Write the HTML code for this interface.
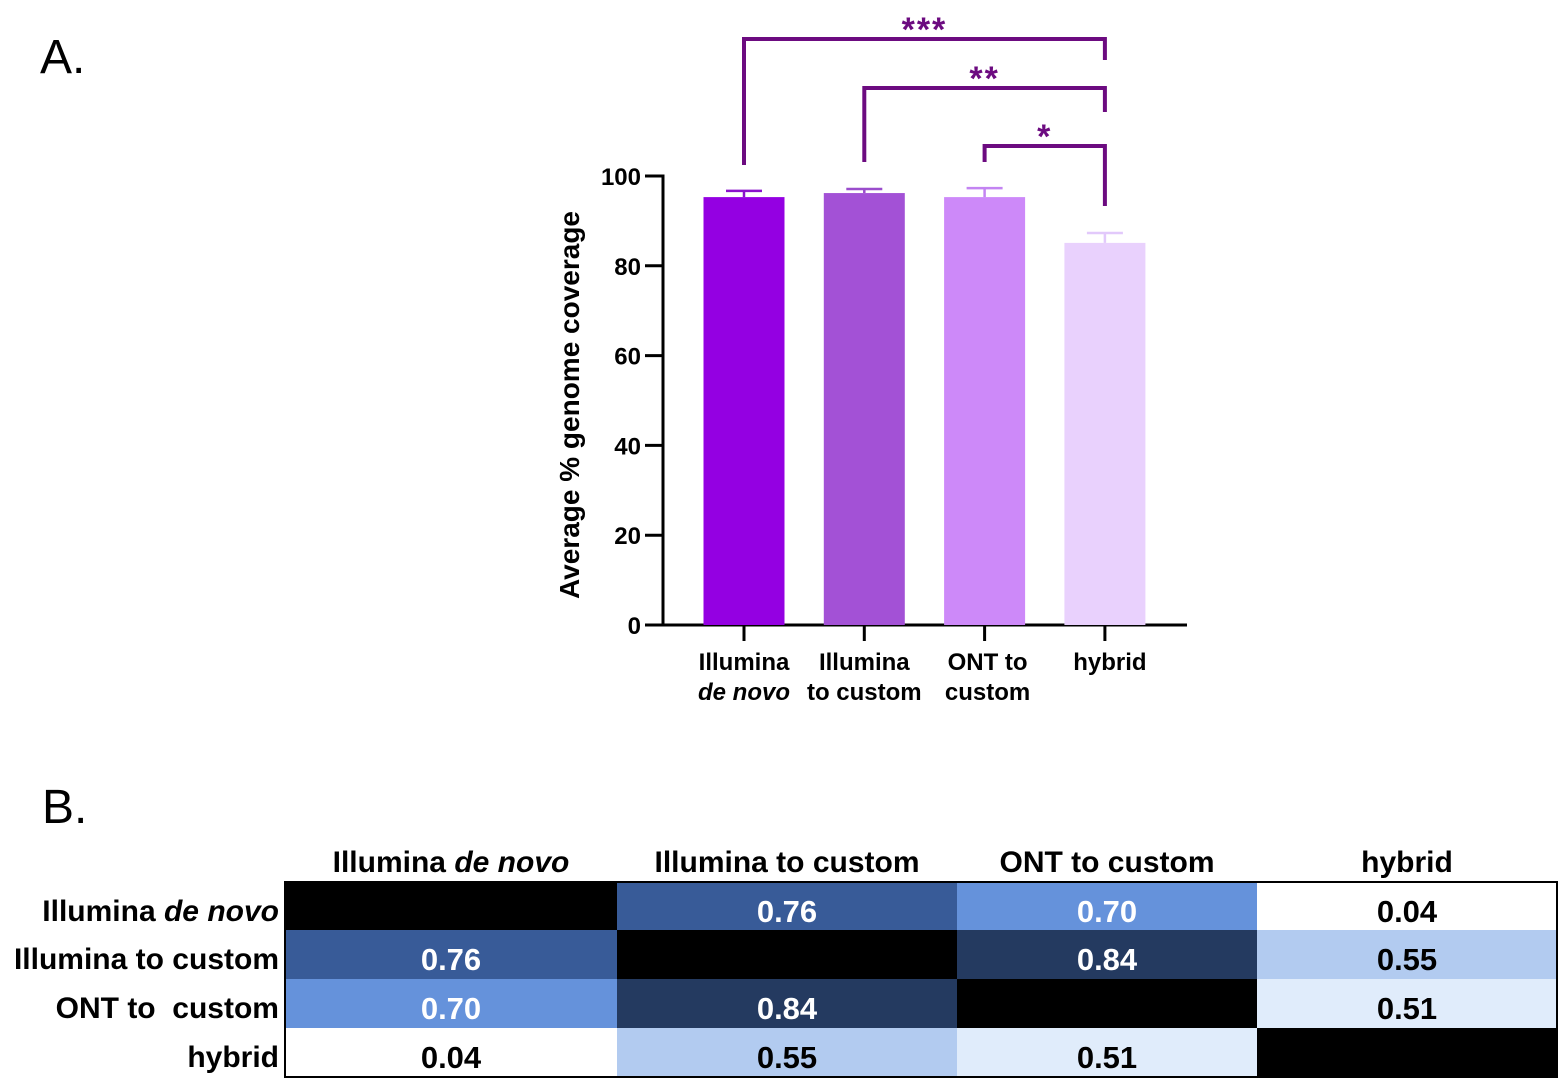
<!DOCTYPE html>
<html><head><meta charset="utf-8"><style>
body{margin:0;background:#fff;}
svg{display:block;font-family:"Liberation Sans",Arial,sans-serif;font-weight:bold;}
text{white-space:pre;}
</style></head><body>
<svg id="fig" width="1561" height="1081" viewBox="0 0 1561 1081">
<text x="40" y="73" font-size="48" font-weight="normal">A.</text>
<text x="42" y="823" font-size="48" font-weight="normal">B.</text>
<g id="chart"></g>
<g id="table"></g>
</svg>
<script>
const categories=["Illumina|de novo","Illumina|to custom","ONT to|custom","hybrid"];
const values=[95.3,96.2,95.3,85.1];
const errors=[1.4,0.9,2.0,2.2];
const colors=["#9400e2","#a351d6","#cd89f9","#e9d1fd"];
const errColors=["#8a12cc","#9a4dcc","#c384f2","#e2c9fb"];
const yTicks=[0,20,40,60,80,100];
const sigPairs=[[0,3,"***"],[1,3,"**"],[2,3,"*"]];
const rowLabels=["Illumina de novo","Illumina to custom","ONT to  custom","hybrid"];
const colLabels=["Illumina de novo","Illumina to custom","ONT to custom","hybrid"];
const matrix=[[null,0.76,0.70,0.04],[0.76,null,0.84,0.55],[0.70,0.84,null,0.51],[0.04,0.55,0.51,null]];

const NS="http://www.w3.org/2000/svg";
function mk(p,t,a){const e=document.createElementNS(NS,t);for(const k in a)e.setAttribute(k,a[k]);p.appendChild(e);return e;}
const chart=document.getElementById('chart');
const y0=625,y1=176,x0=663,xEnd=1187;
const ys=v=>y0-(v/100)*(y0-y1);
const xs=i=>744+i*120.3;
const bw=81;
let ax=mk(chart,'line',{x1:x0,y1:y1-1.5,x2:x0,y2:y0+1.5,stroke:'#000','stroke-width':3});


yTicks.forEach(t=>{
  let l=mk(chart,'line',{x1:x0-18,y1:ys(t),x2:x0,y2:ys(t),stroke:'#000','stroke-width':3});
  
  
  let tx=mk(chart,'text',{x:x0-22,y:ys(t)+9,'font-size':24,'text-anchor':'end'});tx.textContent=t;
  
  
});
let yt=mk(chart,'text',{x:0,y:0,'font-size':28,'text-anchor':'middle',transform:'translate(579,405) rotate(-90)'});
yt.textContent='Average % genome coverage';


let xa=mk(chart,'line',{x1:x0,y1:y0,x2:xEnd,y2:y0,stroke:'#000','stroke-width':3});


categories.forEach((c,i)=>{
  const cx=xs(i);
  let b=mk(chart,'rect',{x:cx-bw/2,y:ys(values[i]),width:bw,height:y0-ys(values[i]),fill:colors[i]});
  
  
  const et=ys(values[i]+errors[i]);
  let e=mk(chart,'path',{d:`M${cx},${ys(values[i])}V${et}M${cx-18},${et}H${cx+18}`,stroke:errColors[i],'stroke-width':2.5,fill:'none'});
  
  
  let tk=mk(chart,'line',{x1:cx,y1:y0,x2:cx,y2:y0+16,stroke:'#000','stroke-width':3});
  
  
  const parts=c.split('|');
  parts.forEach((p,j)=>{
    let t=mk(chart,'text',{x:cx+(i==3?5:(i==2?3:0)),y:670+j*30,'font-size':24,'text-anchor':'middle'});
    if(p==='de novo')t.setAttribute('font-style','italic');
    t.textContent=p;
    
    
  });
});
const bracketY=[39,88,146],leftBot=[165,162,162],rightBot=[60,112,206];
sigPairs.forEach((s,k)=>{
  const a=xs(s[0]),b=xs(s[1]),y=bracketY[k];
  let p=mk(chart,'path',{d:`M${a},${leftBot[k]}V${y}H${b}V${rightBot[k]}`,stroke:'#6c0b80','stroke-width':4,fill:'none'});
  
  
  let t=mk(chart,'text',{x:(a+b)/2,y:y+2,'font-size':34,'text-anchor':'middle',fill:'#6c0b80','letter-spacing':2});
  t.textContent=s[2];
  
  
});
const tb=document.getElementById('table');
const colX=[285,617,957,1257,1557],rowY=[882,930,979,1028,1077];
function cellColor(v){if(v===null)return'#000';if(v>=0.8)return'#243a60';if(v>=0.73)return'#385b98';if(v>=0.6)return'#6592db';if(v>=0.53)return'#b2cbf0';if(v>=0.3)return'#e0ecfb';return'#fff';}
function rich(t,el){
  const m=t.split('de novo');
  el.appendChild(document.createTextNode(m[0]));
  if(m.length>1){const s=mk(el,'tspan',{'font-style':'italic'});s.textContent='de novo';el.appendChild(document.createTextNode(m[1]));}
}
colLabels.forEach((c,j)=>{
  let t=mk(tb,'text',{x:(colX[j]+colX[j+1])/2,y:872,'font-size':30,'text-anchor':'middle'});
  rich(c,t);
  
  
});
rowLabels.forEach((r,i)=>{
  let t=mk(tb,'text',{x:279,y:rowY[i]+39,'font-size':30,'text-anchor':'end'});
  rich(r,t);
  
  
  matrix[i].forEach((v,j)=>{
    let rc=mk(tb,'rect',{x:colX[j],y:rowY[i],width:colX[j+1]-colX[j],height:rowY[i+1]-rowY[i],fill:cellColor(v)});
    
    
    if(v!==null){
      let tt=mk(tb,'text',{x:(colX[j]+colX[j+1])/2,y:rowY[i]+40,'font-size':31,'text-anchor':'middle',fill:v>=0.6?'#fff':'#000'});
      tt.textContent=v.toFixed(2);
      
      
    }
  });
});
let bd=mk(tb,'rect',{x:285,y:882,width:1272,height:195,fill:'none',stroke:'#000','stroke-width':2});


</script>
</body></html>
